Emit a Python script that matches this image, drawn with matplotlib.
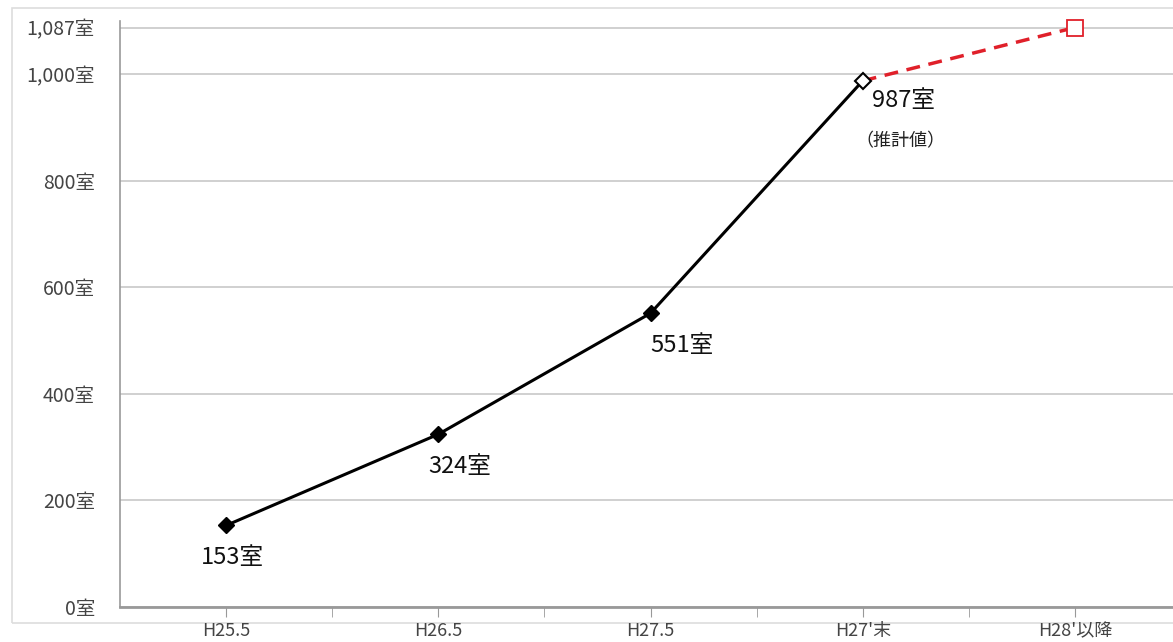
import matplotlib.pyplot as plt
import numpy as np

plt.rcParams['font.family'] = ['Noto Sans CJK JP', 'DejaVu Sans']

periods = ["H25.5", "H26.5", "H27.5", "H27'末", "H28'以降"]
rooms = [153, 324, 551, 987, 1087]
point_labels = ["153室", "324室", "551室", "987室"]
y_ticks = [0, 200, 400, 600, 800, 1000, 1087]
y_tick_labels = ["0室", "200室", "400室", "600室", "800室", "1,000室", "1,087室"]

fig = plt.figure(figsize=(11.73, 6.42), dpi=100)
ax = fig.add_axes([120 / 1173, 35 / 642, 1061 / 1173, 586.4 / 642])

x = np.arange(len(periods))

# grid
for v in y_ticks:
    ax.axhline(v, color='#c8c8c8', lw=1.2, zorder=0)

# actual values (solid) and projection (dashed red)
ax.plot(x[:4], rooms[:4], color='black', lw=2.2, zorder=2)
ax.plot(x[:3], rooms[:3], ls='none', marker='D', ms=8, color='black', zorder=3)
ax.plot(x[3], rooms[3], ls='none', marker='D', ms=8, mfc='white', mec='black', mew=1.5, zorder=4)
ax.plot(x[3:], rooms[3:], color='#e0202a', lw=2.5, ls=(0, (4, 2.5)), zorder=2)
ax.plot(x[4], rooms[4], ls='none', marker='s', ms=12, mfc='white', mec='#e0202a', mew=1.3,
        zorder=4, clip_on=False)

# value labels
offsets = [(0.03, -60), (0.1, -60), (0.15, -60), (0.19, -36)]
for i, lab in enumerate(point_labels):
    dx, dy = offsets[i]
    ax.text(x[i] + dx, rooms[i] + dy, lab, ha='center', va='center', fontsize=17, color='#111111')
ax.text(x[3] + 0.18, rooms[3] - 114, "（推計値）", ha='center', va='center', fontsize=13, color='#222222')

ax.set_xlim(-0.5, 4.5)
ax.set_ylim(0, 1100)
ax.set_xticks(x)
ax.set_xticklabels(periods, fontsize=13, color='#444444')
ax.set_xticks(x[:-1] + 0.5, minor=True)
ax.tick_params(axis='x', which='both', length=7, color='#999999', pad=4)
ax.set_yticks(y_ticks)
ax.set_yticklabels(y_tick_labels, fontsize=14, color='#444444')
ax.tick_params(axis='y', length=0, pad=18)

for s in ['top', 'right']:
    ax.spines[s].set_visible(False)
ax.spines['left'].set_color('#999999')
ax.spines['left'].set_linewidth(1.2)
ax.spines['bottom'].set_color('#999999')
ax.spines['bottom'].set_linewidth(2.0)

# light outer frame around the chart
fig.add_artist(plt.Rectangle((12 / 1173, 19 / 642), 1.2, 615 / 642, transform=fig.transFigure,
                             fill=False, ec='#dddddd', lw=1.2, zorder=0))

fig.savefig('out.png', dpi=100)
